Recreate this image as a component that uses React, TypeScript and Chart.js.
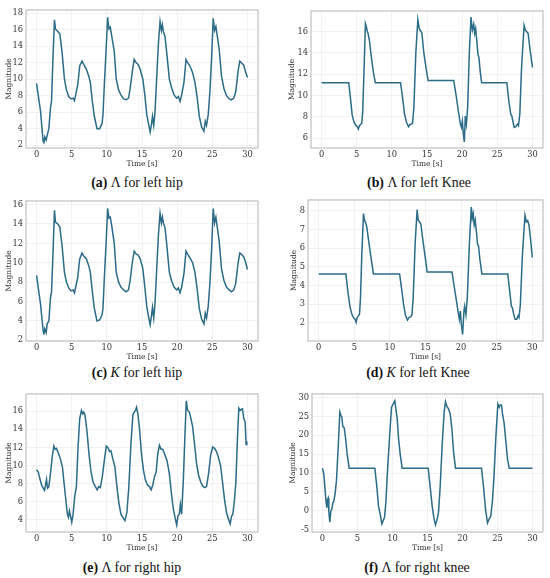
import { useEffect, useRef } from "react"
import { Chart, registerables } from "chart.js"

Chart.register(...registerables)

// left hip (Λ and K share the same time samples)
const hipLeftTime = [
  0, 0.57, 0.94, 1.04, 1.18, 1.37, 1.51, 1.75, 1.98, 2.13, 2.31, 2.55, 2.69, 3.02, 3.31, 3.64, 3.97, 4.25,
  4.58, 4.91, 5.2, 5.39, 5.57, 5.86, 6.14, 6.47, 6.71, 7.09, 7.42, 7.65, 7.94, 8.22, 8.6, 8.98, 9.31, 9.45,
  9.64, 9.92, 10.11, 10.3, 10.49, 10.72, 11.05, 11.34, 11.67, 12.0, 12.38, 12.75, 13.08, 13.32, 13.6, 13.89,
  14.17, 14.45, 14.74, 15.12, 15.4, 15.68, 15.97, 16.16, 16.34, 16.49, 16.67, 16.86, 17.1, 17.34, 17.57,
  17.76, 17.9, 18.04, 18.28, 18.52, 18.89, 19.23, 19.56, 19.93, 20.17, 20.41, 20.64, 20.97, 21.26, 21.49,
  21.82, 22.2, 22.53, 22.86, 23.15, 23.48, 23.81, 24.0, 24.18, 24.42, 24.66, 24.89, 25.13, 25.32, 25.51,
  25.7, 25.98, 26.31, 26.64, 27.02, 27.4, 27.73, 28.06, 28.34, 28.67, 28.91, 29.14, 29.47, 29.76, 30,
]
const hipLeftLambda = [
  9.5, 6.1, 2.4, 2.3, 3.0, 2.6, 3.2, 4.0, 6.5, 7.3, 12.0, 17.2, 16.1, 15.8, 15.5, 13.2, 10.0, 8.7,
  7.9, 7.6, 7.7, 7.4, 8.1, 9.3, 11.6, 12.2, 11.8, 11.2, 10.4, 9.6, 7.3, 5.5, 4.0, 4.0, 4.6, 5.7,
  9.3, 14.0, 17.5, 16.1, 16.3, 15.1, 13.4, 10.0, 8.7, 8.1, 7.6, 7.5, 7.7, 8.9, 10.8, 12.4,
  12.0, 11.8, 11.2, 10.0, 8.1, 5.7, 4.4, 3.6, 4.5, 5.5, 4.4, 6.1, 10.4, 14.4, 17.0,
  15.9, 16.6, 15.8, 15.1, 13.2, 10.0, 8.9, 8.1, 7.7, 7.9, 7.3, 8.1, 9.6, 12.4, 12.0,
  11.6, 10.8, 9.6, 7.7, 5.5, 4.2, 3.7, 4.9, 4.4, 5.7, 8.5, 12.4, 17.4, 15.9, 16.4,
  15.3, 13.6, 10.4, 8.9, 8.0, 7.6, 7.5, 7.7, 8.5, 11.0, 12.2, 12.0, 11.7, 10.8, 10.2,
]
const hipLeftK = [
  8.7, 5.7, 3.0, 2.6, 3.2, 2.8, 3.7, 4.0, 6.4, 7.0, 10.4, 15.4, 14.2, 14.0, 13.7, 11.7, 9.0, 8.0,
  7.4, 7.1, 7.2, 6.9, 7.5, 8.5, 10.4, 11.0, 10.7, 10.4, 9.7, 9.0, 7.0, 5.3, 4.0, 4.1, 4.6, 5.3,
  8.4, 12.4, 15.6, 14.6, 14.7, 13.7, 12.0, 9.0, 8.0, 7.5, 7.2, 7.0, 7.2, 8.2, 9.9, 11.2,
  10.9, 10.8, 10.4, 9.4, 7.5, 5.5, 4.3, 3.6, 4.5, 5.4, 4.3, 5.9, 9.5, 12.9, 15.1,
  14.1, 14.7, 14.1, 13.6, 11.9, 9.0, 8.1, 7.5, 7.2, 7.4, 6.9, 7.5, 8.9, 11.2, 10.9,
  10.5, 10.0, 9.0, 7.2, 5.3, 4.2, 3.7, 4.8, 4.3, 5.5, 7.9, 11.2, 15.6, 14.1, 14.7,
  13.7, 12.2, 9.4, 8.2, 7.5, 7.2, 7.0, 7.2, 7.9, 10.0, 11.0, 10.9, 10.6, 10.0, 9.3,
]

// left knee Λ
const kneeLeftLambdaTime = [
  0, 3.87, 4.16, 4.35, 4.63, 4.91, 5.1, 5.24, 5.39, 5.57, 5.72, 5.86, 6.05, 6.24, 6.38, 6.52, 6.61, 6.8,
  7.09, 7.37, 7.65, 11.24, 11.53, 11.81, 12.09, 12.38, 12.56, 12.75, 12.94, 13.13, 13.41, 13.7, 13.89,
  14.08, 14.27, 14.55, 14.88, 15.16, 18.8, 19.13, 19.46, 19.75, 19.89, 20.03, 20.17, 20.31, 20.45, 20.6,
  20.78, 21.02, 21.26, 21.45, 21.64, 21.78, 21.92, 22.11, 22.25, 22.39, 22.58, 22.77, 26.36, 26.64, 26.92,
  27.07, 27.21, 27.4, 27.63, 27.87, 28.01, 28.2, 28.44, 28.81, 29.0, 29.19, 29.38, 29.66, 30,
]
const kneeLeftLambda = [
  11.21, 11.21, 9.45, 8.2, 7.46, 7.16, 7.07, 6.85, 7.16, 7.3, 7.37, 8.53, 12.5, 16.76, 16.46, 16.0, 15.85, 15.24,
  13.56, 12.19, 11.21, 11.21, 9.75, 8.23, 7.46, 7.07, 7.25, 7.3, 7.37, 8.84, 14.0, 17.13, 16.3,
  16.09, 15.9, 14.0, 12.5, 11.4, 11.4, 10.05, 8.53, 7.3, 7.0, 7.6, 6.4, 5.63, 8.07, 7.3,
  8.84, 14.0, 17.37, 16.15, 16.7, 15.85, 16.3, 14.93, 13.87, 13.56, 12.19, 11.21, 11.21, 9.45, 8.23,
  8.07, 7.6, 7.0, 7.07, 7.3, 7.16, 8.23, 12.5, 16.6, 16.15, 16.0, 15.85, 14.3, 12.65,
]

// left knee K
const kneeLeftKTime = [
  0, 3.82, 4.1, 4.38, 4.66, 4.94, 5.12, 5.26, 5.4, 5.59, 5.73, 5.87, 6.05, 6.29, 6.43, 6.61, 6.75, 6.99,
  7.31, 7.69, 11.36, 11.64, 11.92, 12.2, 12.48, 12.67, 12.9, 13.09, 13.27, 13.55, 13.83, 13.97, 14.16,
  14.35, 14.62, 14.9, 15.23, 18.72, 19.0, 19.28, 19.56, 19.75, 19.89, 20.03, 20.21, 20.4, 20.49, 20.68,
  20.87, 21.15, 21.43, 21.56, 21.7, 21.84, 21.98, 22.17, 22.31, 22.45, 22.63, 22.92, 26.55, 26.83, 27.06,
  27.2, 27.39, 27.58, 27.81, 28.0, 28.13, 28.32, 28.6, 28.97, 29.16, 29.34, 29.53, 29.76, 30,
]
const kneeLeftK = [
  4.62, 4.62, 3.67, 2.89, 2.45, 2.24, 2.19, 2.02, 2.28, 2.37, 2.45, 3.33, 5.59, 7.86, 7.51, 7.34, 7.16, 6.47,
  5.59, 4.62, 4.62, 3.85, 2.98, 2.37, 2.14, 2.28, 2.31, 2.42, 3.33, 6.29, 8.07, 7.51, 7.42,
  7.3, 6.47, 5.68, 4.72, 4.72, 4.02, 3.33, 2.63, 2.19, 2.63, 1.93, 1.37, 2.63, 2.89, 2.42,
  3.33, 6.12, 8.21, 7.6, 7.86, 7.25, 7.51, 6.81, 6.2, 6.12, 5.42, 4.62, 4.62, 3.67, 2.89,
  2.8, 2.45, 2.19, 2.19, 2.37, 2.28, 2.98, 5.59, 7.77, 7.42, 7.48, 7.25, 6.47, 5.51,
]

// right hip Λ
const hipRightTime = [
  0, 0.24, 0.47, 0.71, 0.94, 1.13, 1.28, 1.42, 1.56, 1.75, 1.98, 2.22, 2.46, 2.65, 2.83, 3.07, 3.4, 3.68,
  3.92, 4.16, 4.39, 4.53, 4.68, 4.82, 5.01, 5.2, 5.43, 5.67, 5.9, 6.14, 6.38, 6.57, 6.71, 6.9, 7.18, 7.46,
  7.75, 8.03, 8.36, 8.64, 8.83, 9.07, 9.35, 9.64, 9.92, 10.16, 10.39, 10.58, 10.86, 11.15, 11.43, 11.71,
  12.0, 12.28, 12.57, 12.85, 13.13, 13.42, 13.7, 13.89, 14.08, 14.22, 14.41, 14.64, 14.93, 15.21, 15.49,
  15.78, 16.06, 16.3, 16.53, 16.77, 17.01, 17.24, 17.48, 17.71, 17.95, 18.23, 18.56, 18.89, 19.18, 19.46,
  19.74, 19.93, 20.12, 20.31, 20.45, 20.64, 20.88, 21.11, 21.3, 21.49, 21.73, 21.96, 22.2, 22.48, 22.77,
  23.05, 23.34, 23.62, 23.9, 24.18, 24.47, 24.75, 25.04, 25.32, 25.6, 25.88, 26.17, 26.45, 26.74, 27.02,
  27.3, 27.54, 27.73, 27.92, 28.16, 28.34, 28.58, 28.77, 28.96, 29.1, 29.29, 29.48, 29.67, 29.81, 29.91,
]
const hipRightLambda = [
  9.54, 9.29, 8.57, 7.86, 7.5, 7.25, 7.86, 8.46, 7.5, 7.68, 9.11, 10.89, 12.14, 11.79, 11.89, 11.43, 10.71, 9.82,
  8.04, 6.25, 4.64, 4.29, 5.0, 4.46, 3.75, 4.64, 6.61, 7.68, 11.96, 15.18, 16.07, 15.71, 15.89, 15.54, 13.75, 11.25,
  9.29, 8.21, 7.68, 7.32, 7.68, 7.57, 8.75, 10.54, 12.14, 11.96, 11.54, 11.61, 10.71, 9.82, 7.68, 5.89,
  4.64, 4.29, 3.93, 4.82, 7.68, 12.32, 15.54, 15.89, 16.07, 16.43, 15.71, 14.11, 11.25, 9.46, 8.39,
  7.86, 7.68, 7.32, 7.86, 8.75, 9.29, 11.25, 12.25, 11.79, 11.79, 11.25, 10.54, 9.11, 6.96, 5.18,
  4.11, 3.46, 4.46, 4.64, 5.71, 4.64, 8.39, 13.39, 17.14, 16.07, 15.89, 15.18, 14.29, 12.32, 10.18,
  8.93, 8.21, 7.75, 7.57, 7.68, 9.11, 11.07, 12.04, 11.89, 11.54, 10.89, 10.0, 8.21, 6.25, 4.82,
  4.11, 3.57, 4.39, 4.64, 6.25, 8.04, 13.04, 16.32, 16.07, 16.18, 16.25, 15.18, 14.82, 12.32, 12.68,
]

// right knee Λ
const kneeRightTime = [
  0, 0.19, 0.33, 0.48, 0.62, 0.71, 0.81, 0.9, 1.05, 1.19, 1.33, 1.48, 1.62, 1.81, 2.0, 2.24, 2.48, 2.62,
  2.76, 2.9, 3.1, 3.29, 3.52, 3.81, 7.48, 7.76, 8.0, 8.24, 8.48, 8.67, 8.86, 9.05, 9.29, 9.57, 9.86, 10.1,
  10.33, 10.48, 10.67, 10.86, 11.1, 11.38, 15.1, 15.38, 15.67, 15.9, 16.14, 16.33, 16.57, 16.81, 17.1,
  17.38, 17.57, 17.76, 18.0, 18.24, 18.48, 18.71, 19.0, 22.71, 23.0, 23.29, 23.57, 23.81, 24.05, 24.29,
  24.52, 24.76, 25.05, 25.24, 25.38, 25.57, 25.71, 25.95, 26.19, 26.43, 26.67, 30,
]
const kneeRightLambda = [
  11.3, 9.67, 6.41, 2.98, 0.83, 2.98, 3.41, -0.02, -3.03, -0.02, 0.4, 2.12, 2.55, 4.69, 8.12, 16.7, 26.14, 25.28,
  24.85, 22.28, 22.02, 19.28, 14.99, 11.3, 11.3, 6.41, 1.26, -0.88, -3.46, -2.6, -1.74, 2.12, 10.7, 19.28, 27.43, 28.28,
  29.14, 27.0, 24.42, 19.28, 14.99, 11.3, 11.3, 6.41, 1.26, -1.74, -3.71, -2.6, -0.45, 6.41, 17.56,
  26.14, 28.88, 27.68, 27.0, 25.71, 21.85, 15.85, 11.3, 11.3, 6.41, 0.4, -3.2, -2.17, -1.31, 2.98,
  9.84, 19.28, 28.28, 27.43, 28.03, 28.03, 25.71, 23.14, 18.42, 13.7, 11.3, 11.3,
]

const LINE = "#2a6b87"
const TICK_FONT = { family: "'DejaVu Serif', serif", size: 8.3 }
const TITLE_FONT = { family: "'DejaVu Serif', serif", size: 7.5 }

type PanelProps = {
  time: number[]
  values: number[]
  x0: number
  box: [number, number, number, number]
  yMin: number
  yMax: number
  yStep: number
  titlePad: number
}

const boxPlugin = {
  id: "frameBox",
  afterDatasetsDraw(chart: Chart) {
    const { ctx, chartArea } = chart
    ctx.save()
    ctx.strokeStyle = "#b4b4b4"
    ctx.lineWidth = 1
    ctx.strokeRect(chartArea.left, chartArea.top, chartArea.right - chartArea.left, chartArea.bottom - chartArea.top)
    ctx.restore()
  },
}

function Panel({ time, values, x0, box, yMin, yMax, yStep, titlePad }: PanelProps) {
  const chartRef = useRef<HTMLCanvasElement>(null)
  const chartInstance = useRef<Chart | null>(null)
  const [L, T, R, B] = box
  const top = T - 4
  const width = 275
  const xAxisH = 23
  const height = B - top + xAxisH

  useEffect(() => {
    const canvas = chartRef.current
    if (!canvas) return
    const ctx = canvas.getContext("2d")
    if (!ctx) return

    if (chartInstance.current) {
      chartInstance.current.destroy()
    }

    chartInstance.current = new Chart(ctx, {
      type: "line",
      data: {
        datasets: [
          {
            data: time.map((t, i) => ({ x: t, y: values[i] })),
            borderColor: LINE,
            borderWidth: 1.5,
            pointRadius: 0,
            tension: 0,
            fill: false,
          },
        ],
      },
      options: {
        responsive: false,
        animation: false,
        layout: { padding: { top: T - top, right: x0 + width - R, left: 0, bottom: 0 } },
        plugins: { legend: { display: false }, tooltip: { enabled: false } },
        scales: {
          x: {
            type: "linear",
            min: -1.5,
            max: 31.5,
            afterFit: (scale) => {
              scale.height = xAxisH
            },
            ticks: { stepSize: 5, includeBounds: false, color: "#333", font: TICK_FONT, padding: 2, maxRotation: 0 },
            grid: { color: "#ededed", lineWidth: 0.7, drawTicks: false },
            border: { display: false },
            title: { display: true, text: "Time [s]", color: "#333", font: TITLE_FONT, padding: { top: 0, bottom: 2 } },
          },
          y: {
            type: "linear",
            min: yMin,
            max: yMax,
            afterFit: (scale) => {
              scale.width = L - x0
            },
            ticks: { stepSize: yStep, includeBounds: false, color: "#333", font: TICK_FONT, padding: 3 },
            grid: { color: "#ededed", lineWidth: 0.7, drawTicks: false },
            border: { display: false },
            title: { display: true, text: "Magnitude", color: "#333", font: TITLE_FONT, padding: { top: titlePad, bottom: 0 } },
          },
        },
      },
      plugins: [boxPlugin],
    })

    return () => {
      if (chartInstance.current) {
        chartInstance.current.destroy()
        chartInstance.current = null
      }
    }
  }, [])

  return (
    <div style={{ position: "absolute", left: x0, top, width, height }}>
      <canvas ref={chartRef} width={width} height={height} style={{ width, height }}></canvas>
    </div>
  )
}

function Caption({ cx, cy, label, children }: { cx: number; cy: number; label: string; children: any }) {
  return (
    <div
      style={{
        position: "absolute",
        left: cx - 130,
        width: 260,
        top: cy - 8,
        lineHeight: "16px",
        textAlign: "center",
        fontFamily: "'Liberation Serif', serif",
        fontSize: 13.8,
        color: "#111",
        whiteSpace: "nowrap",
      }}
    >
      <b>{label}</b> {children}
    </div>
  )
}

export default function App() {
  return (
    <div style={{ position: "absolute", left: 0, top: 0, width: 550, height: 578, background: "#fff" }}>
      <Panel time={hipLeftTime} values={hipLeftLambda} x0={0} box={[26, 6, 258, 148]} yMin={1.65} yMax={18.4} yStep={2} titlePad={5} />
      <Panel time={kneeLeftLambdaTime} values={kneeLeftLambda} x0={275} box={[311, 7, 543, 148]} yMin={5.06} yMax={17.95} yStep={2} titlePad={13} />
      <Panel time={hipLeftTime} values={hipLeftK} x0={0} box={[26, 197, 258, 341]} yMin={1.93} yMax={16.37} yStep={2} titlePad={5} />
      <Panel time={kneeLeftKTime} values={kneeLeftK} x0={275} box={[308, 196, 543, 341]} yMin={1.02} yMax={8.59} yStep={1} titlePad={15} />
      <Panel time={hipRightTime} values={hipRightLambda} x0={0} box={[26, 390, 258, 532]} yMin={2.67} yMax={17.89} yStep={2} titlePad={5} />
      <Panel time={kneeRightTime} values={kneeRightLambda} x0={275} box={[312, 390, 543, 532]} yMin={-5.6} yMax={30.93} yStep={5} titlePad={14} />

      <Caption cx={137} cy={183} label="(a)">Λ for left hip</Caption>
      <Caption cx={419} cy={183} label="(b)">Λ for left Knee</Caption>
      <Caption cx={137} cy={372.5} label="(c)"><i>K</i> for left hip</Caption>
      <Caption cx={418} cy={372.5} label="(d)"><i>K</i> for left Knee</Caption>
      <Caption cx={132} cy={567.5} label="(e)">Λ for right hip</Caption>
      <Caption cx={417} cy={567.5} label="(f)">Λ for right knee</Caption>
    </div>
  )
}
